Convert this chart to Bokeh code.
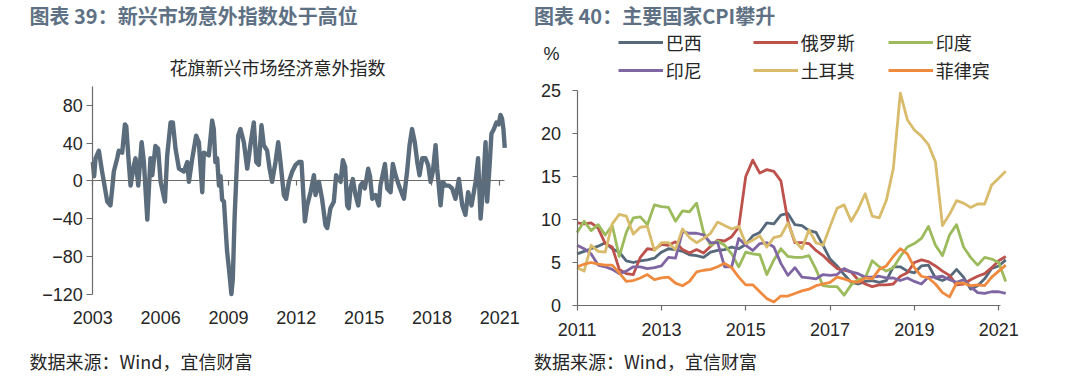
import pandas as pd
from bokeh.plotting import figure
from bokeh.models import Range1d, FixedTicker, Label, Legend, LegendItem, NumeralTickFormatter, LinearAxis
from bokeh.layouts import row
from bokeh.embed import file_html
from bokeh.resources import INLINE

CJK = "Noto Sans CJK SC"
NUM = "Liberation Sans"
HEAD_COLOR = "#5e7184"
TEXT_COLOR = "#262626"
AXIS_COLOR = "#6b6b6b"

# ---------------- data: left panel (Citi EM economic surprise index)
esi_years = [2003.00, 2003.06, 2003.12, 2003.27, 2003.41, 2003.49, 2003.64, 2003.78, 2003.86, 2003.93,
             2004.08, 2004.15, 2004.30, 2004.42, 2004.48, 2004.59, 2004.67, 2004.82, 2004.89, 2005.01,
             2005.16, 2005.26, 2005.41, 2005.55, 2005.63, 2005.77, 2005.89, 2006.00, 2006.19, 2006.29,
             2006.44, 2006.54, 2006.66, 2006.81, 2007.03, 2007.18, 2007.25, 2007.40, 2007.57, 2007.69,
             2007.84, 2007.91, 2008.13, 2008.28, 2008.35, 2008.42, 2008.50, 2008.58, 2008.65, 2008.72,
             2008.80, 2008.94, 2009.02, 2009.13, 2009.19, 2009.27, 2009.34, 2009.43, 2009.53, 2009.68,
             2009.83, 2009.97, 2010.12, 2010.23, 2010.34, 2010.46, 2010.56, 2010.71, 2010.82, 2010.93,
             2011.08, 2011.20, 2011.30, 2011.45, 2011.55, 2011.67, 2011.82, 2011.97, 2012.11, 2012.23,
             2012.29, 2012.38, 2012.48, 2012.63, 2012.78, 2012.85, 2013.00, 2013.14, 2013.29, 2013.37,
             2013.51, 2013.66, 2013.76, 2013.96, 2014.06, 2014.16, 2014.25, 2014.32, 2014.40, 2014.50,
             2014.62, 2014.74, 2014.84, 2014.93, 2015.03, 2015.18, 2015.26, 2015.36, 2015.50, 2015.65,
             2015.72, 2015.92, 2016.02, 2016.17, 2016.27, 2016.39, 2016.54, 2016.65, 2016.76, 2016.90,
             2017.01, 2017.12, 2017.24, 2017.35, 2017.45, 2017.57, 2017.71, 2017.83, 2017.94, 2018.04,
             2018.16, 2018.23, 2018.38, 2018.48, 2018.60, 2018.75, 2018.89, 2019.04, 2019.19, 2019.34,
             2019.48, 2019.60, 2019.75, 2019.93, 2020.04, 2020.15, 2020.25, 2020.37, 2020.44, 2020.55,
             2020.63, 2020.74, 2020.85, 2020.95, 2021.03, 2021.10, 2021.16, 2021.22]
esi_values = [20, 5, 24, 32, 10, -1, -22, -26, -8, 10,
              24, 32, 30, 60, 58, 20, -5, 17, 24, -5,
              41, 20, -41, 24, 6, 37, 34, -1, -22, 27,
              62, 62, 34, 13, 10, 20, -1, 24, 48, 41,
              -12, 30, 27, 64, 55, 20, 24, -5, 5, -20,
              -22, -75, -93, -120, -105, -40, 0, 48, 55, 41,
              13, 38, 62, 20, 17, 59, 38, 32, 13, -1,
              20, 41, 20, -15, -19, -1, 10, 17, 20, 20,
              -5, -43, -26, -12, 6, -15, -1, -19, -47, -50,
              -29, -22, 6, -1, 22, 15, -26, -29, -8, 2,
              -15, -26, -5, -2, -8, 13, 5, -19, -15, -26,
              -5, 18, -8, -12, 18, 6, -5, -12, -19, 10,
              38, 55, 41, 20, 6, 24, 24, 17, -1, 10,
              38, 13, -26, -1, -5, -5, -8, -19, 2, -26,
              -36, -12, -26, -1, 24, -40, -10, 41, -22, 17,
              50, 55, 62, 60, 70, 66, 55, 35]
esi_ticks = [2003, 2006, 2009, 2012, 2015, 2018, 2021]
esi_yticks = [-120, -80, -40, 0, 40, 80]

# ---------------- data: right panel (CPI yoy, %), bi-monthly from Jan 2011
cpi_months = pd.date_range("2011-01-01", "2021-03-01", freq="2MS")
brazil = [6.0, 6.3, 6.6, 6.9, 7.3, 6.6, 6.2, 5.2, 5.0, 5.2,
          5.3, 5.5, 6.2, 6.6, 6.5, 6.3, 5.9, 5.8, 5.6, 6.2,
          6.4, 6.5, 6.8, 6.6, 7.1, 8.1, 8.5, 9.6, 9.5, 10.5,
          10.7, 9.4, 9.3, 8.7, 8.5, 7.0, 5.4, 4.6, 3.6, 2.7,
          2.5, 2.8, 2.9, 2.7, 2.9, 4.5, 4.5, 4.0, 3.8, 4.6,
          4.7, 3.2, 2.9, 3.3, 4.2, 3.3, 1.9, 2.3, 3.1, 4.3,
          4.6, 5.3]
russia = [9.6, 9.5, 9.6, 9.0, 7.2, 6.8, 4.2, 3.7, 3.6, 5.6,
          6.6, 6.5, 7.1, 7.0, 7.4, 6.5, 6.1, 6.5, 6.1, 6.9,
          7.6, 7.5, 8.0, 9.1, 15.0, 16.9, 15.4, 15.8, 15.6, 14.5,
          9.8, 7.3, 7.3, 7.2, 6.4, 5.8, 5.0, 4.3, 4.1, 3.9,
          3.0, 2.5, 2.2, 2.4, 2.4, 2.5, 3.4, 3.8, 5.0, 5.3,
          5.1, 4.6, 4.0, 3.5, 2.4, 2.5, 3.0, 3.4, 3.7, 4.4,
          5.2, 5.7]
india = [8.5, 9.8, 8.7, 9.4, 8.2, 9.3, 5.7, 8.5, 10.2, 10.3,
         9.4, 11.7, 11.5, 11.4, 9.8, 11.0, 10.9, 11.9, 8.5, 7.0,
         7.5, 7.0, 6.0, 4.5, 6.2, 6.0, 5.9, 3.6, 5.3, 6.6,
         5.7, 5.6, 5.6, 5.8, 4.2, 2.3, 2.2, 2.2, 1.2, 2.4,
         3.0, 3.2, 5.2, 4.5, 4.0, 4.4, 5.7, 6.8, 7.2, 7.8,
         9.2, 7.0, 5.8, 8.2, 9.4, 6.8, 5.6, 4.7, 5.6, 5.4,
         5.0, 2.8]
indonesia = [7.0, 6.6, 6.0, 4.7, 4.5, 4.2, 3.7, 4.0, 4.5, 4.5,
             4.3, 4.4, 4.6, 5.6, 5.5, 8.6, 8.4, 8.4, 8.2, 7.3,
             7.3, 4.5, 4.5, 7.8, 7.0, 6.4, 7.2, 7.3, 6.8, 4.9,
             3.5, 4.4, 3.3, 3.2, 3.1, 3.6, 3.5, 3.6, 4.3, 3.9,
             3.7, 3.3, 3.3, 3.4, 3.2, 3.2, 2.9, 3.2, 2.8, 2.5,
             3.3, 3.3, 3.4, 3.0, 2.7, 3.0, 2.2, 1.5, 1.4, 1.6,
             1.6, 1.4]
turkey = [4.4, 4.0, 7.0, 6.3, 6.2, 9.5, 10.6, 10.4, 8.3, 9.1,
          9.2, 6.4, 7.3, 7.3, 6.5, 8.9, 7.9, 7.3, 7.8, 8.4,
          9.7, 9.3, 8.9, 9.2, 7.2, 7.6, 8.1, 6.8, 7.9, 8.1,
          9.6, 7.5, 6.6, 8.8, 7.3, 7.0, 9.2, 11.3, 11.7, 9.8,
          11.2, 13.0, 10.4, 10.2, 12.2, 15.9, 24.7, 21.6, 20.4, 19.7,
          18.7, 16.7, 9.3, 10.6, 12.2, 11.9, 11.4, 11.8, 11.8, 14.0,
          14.8, 15.6]
philippines = [4.5, 4.8, 5.0, 4.8, 4.7, 4.7, 3.8, 2.8, 2.9, 3.2,
               3.6, 3.0, 3.2, 3.3, 2.6, 2.3, 2.8, 3.9, 4.1, 4.2,
               4.5, 4.9, 4.4, 3.3, 2.4, 2.4, 1.6, 0.8, 0.4, 1.1,
               1.1, 1.4, 1.7, 1.9, 2.3, 2.5, 2.7, 3.3, 3.1, 2.8,
               2.7, 3.2, 3.1, 4.2, 4.6, 5.7, 6.6, 6.0, 4.4, 3.4,
               3.2, 2.5, 1.5, 1.0, 2.6, 2.6, 2.3, 2.4, 2.3, 3.3,
               4.0, 4.7]
cpi_names = ["巴西", "俄罗斯", "印度", "印尼", "土耳其", "菲律宾"]
cpi_series = [brazil, russia, india, indonesia, turkey, philippines]
cpi_colors = ["#56697b", "#bd514c", "#9cbb5c", "#7f66a3", "#d9bb6c", "#ef8a3f"]
cpi_ticks = [2011, 2013, 2015, 2017, 2019, 2021]
cpi_yticks = [0, 5, 10, 15, 20, 25]

# ---------------- layout geometry (pixels inside each canvas)
W1, W2, H = 532, 548, 388


def calib(p0, v0, p1, v1, size):
    """Range covering the whole canvas from two pixel anchors; also a pixel->value mapper."""
    k = (v1 - v0) / (p1 - p0)
    a = v0 - p0 * k
    b = v0 + (size - p0) * k
    return Range1d(min(a, b), max(a, b)), (lambda px: v0 + (px - p0) * k)


def base_figure(w, xr, yr):
    p = figure(width=w, height=H, output_backend="svg", toolbar_location=None, title=None,
               x_range=xr, y_range=yr, min_border=0, min_border_left=0, min_border_right=0,
               min_border_top=0, min_border_bottom=0)
    p.outline_line_color = None
    p.grid.visible = False
    p.background_fill_color = "white"
    p.border_fill_color = "white"
    return p


def style_axis(ax, size="18px"):
    ax.axis_line_color = AXIS_COLOR
    ax.axis_line_width = 1.2
    ax.major_tick_line_color = AXIS_COLOR
    ax.major_tick_line_width = 1.2
    ax.minor_tick_line_color = None
    ax.major_tick_in = 0
    ax.major_label_text_font = NUM
    ax.major_label_text_font_size = size
    ax.major_label_text_color = TEXT_COLOR


def text_label(fx, fy, px, py, text, size, align="left", bold=False, color=TEXT_COLOR, font=CJK):
    return Label(x=fx(px), y=fy(py), text=text, text_font=font, text_font_size=size,
                 text_font_style="bold" if bold else "normal", text_color=color,
                 text_baseline="middle", text_align=align)


# ---------------- left figure
xr1, lfx = calib(92.3, 2003, 499.3, 2021, W1)
yr1, lfy = calib(293.5, -120, 105.0, 80, H)
p1 = base_figure(W1, xr1, yr1)

yax = p1.yaxis[0]
style_axis(yax)
yax.fixed_location = 2003
yax.bounds = (-120, 100)
yax.ticker = FixedTicker(ticks=esi_yticks)
yax.major_label_overrides = {t: str(t).replace("-", "\u2212") for t in esi_yticks}
yax.major_tick_out = 6
yax.major_label_standoff = 4

zax = p1.xaxis[0]
style_axis(zax)
zax.fixed_location = 0
zax.bounds = (2003, 2021.2)
zax.ticker = FixedTicker(ticks=esi_ticks)
zax.major_tick_out = 5
zax.major_label_text_color = None

lab_ax = LinearAxis(ticker=FixedTicker(ticks=esi_ticks), formatter=NumeralTickFormatter(format="0"))
p1.add_layout(lab_ax, "below")
style_axis(lab_ax)
lab_ax.fixed_location = -120
lab_ax.axis_line_color = None
lab_ax.major_tick_line_color = None
lab_ax.major_tick_out = 0
lab_ax.major_label_standoff = 17

p1.line(esi_years, esi_values, line_color="#5b6d7c", line_width=4.4, line_join="round")

p1.add_layout(text_label(lfx, lfy, 29, 15, "图表 39：新兴市场意外指数处于高位", "20px",
                         bold=True, color=HEAD_COLOR))
p1.add_layout(text_label(lfx, lfy, 277, 66, "花旗新兴市场经济意外指数", "18px", align="center"))
p1.add_layout(text_label(lfx, lfy, 29, 360, "数据来源：Wind，宜信财富", "18px"))

# ---------------- right figure
xr2, rfx = calib(44.6, 2011, 466.2, 2021, W2)
yr2, rfy = calib(305.0, 0, 90.0, 25, H)
p2 = base_figure(W2, xr2, yr2)

rx = p2.xaxis[0]
style_axis(rx)
rx.fixed_location = 0
rx.bounds = (2011, 2021.05)
rx.ticker = FixedTicker(ticks=cpi_ticks)
rx.formatter = NumeralTickFormatter(format="0")
rx.major_tick_out = 5
rx.major_label_standoff = 12

ry = p2.yaxis[0]
style_axis(ry)
ry.fixed_location = 2011
ry.bounds = (0, 25)
ry.ticker = FixedTicker(ticks=cpi_yticks)
ry.major_tick_out = 5
ry.major_label_standoff = 11

t = list(cpi_months.year + (cpi_months.month - 1) / 12.0)
renderers = []
for ser, col in zip(cpi_series, cpi_colors):
    renderers.append(p2.line(t, ser, line_color=col, line_width=2.8, line_join="round"))

for row_i, (a, b) in enumerate([(0, 3), (3, 6)]):
    items = [LegendItem(label=cpi_names[i], renderers=[renderers[i]]) for i in range(a, b)]
    bottom_px = 55 if row_i == 0 else 83
    leg = Legend(items=items, orientation="horizontal", location=(85.7, H - bottom_px),
                 glyph_width=45, glyph_height=20, label_height=20, label_standoff=3,
                 label_width=70, spacing=17, padding=0, margin=0,
                 border_line_color=None, background_fill_alpha=0,
                 label_text_font=CJK, label_text_font_size="18px", label_text_color=TEXT_COLOR)
    p2.add_layout(leg)

p2.add_layout(text_label(rfx, rfy, 19, 53, "%", "18px", align="center", font=NUM))
p2.add_layout(text_label(rfx, rfy, 1.5, 15, "图表 40：主要国家CPI攀升", "20px",
                         bold=True, color=HEAD_COLOR))
p2.add_layout(text_label(rfx, rfy, 1.5, 360, "数据来源：Wind，宜信财富", "18px"))

layout = row(p1, p2)
open("out.html", "w").write(file_html(layout, INLINE))
